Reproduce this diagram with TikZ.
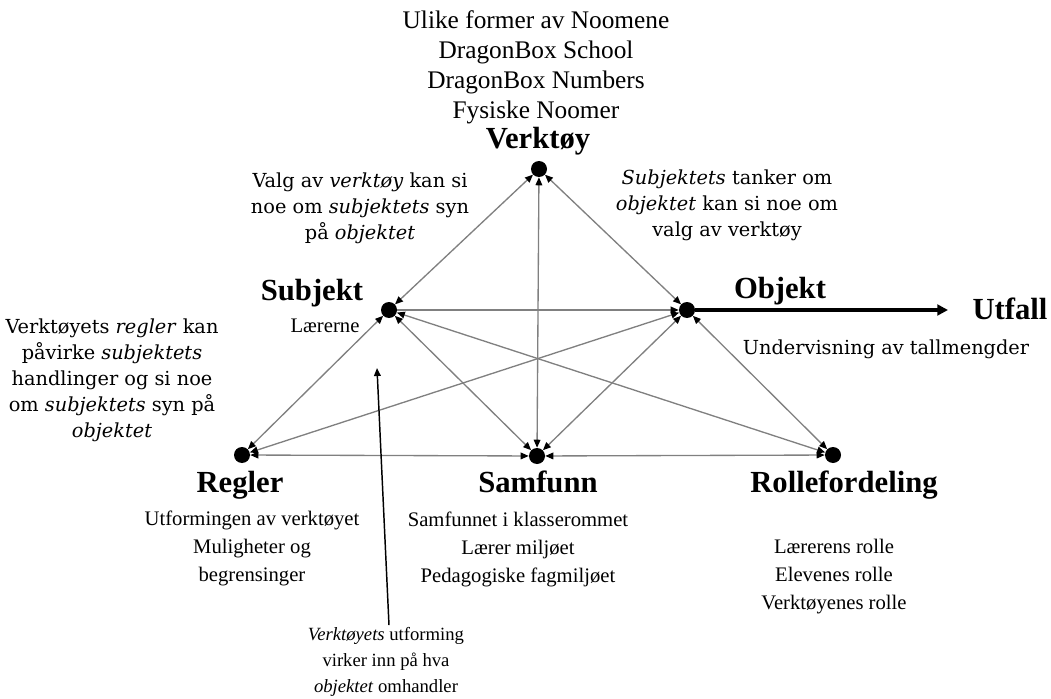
\documentclass[tikz,border=0pt]{standalone}
\usepackage{fontspec}
\setmainfont{Liberation Serif}
\newfontfamily\notefont{DejaVu Serif}
\usetikzlibrary{arrows.meta}

\begin{document}
\begin{tikzpicture}[x=0.75pt,y=-0.75pt,
  dot/.style={circle,fill=black,inner sep=0pt,minimum size=12pt},
  link/.style={draw=black!50,line width=1pt,{Triangle[length=6pt,width=5pt,color=black]}-{Triangle[length=6pt,width=5pt,color=black]}},
  onelink/.style={draw=black!50,line width=1pt,-{Triangle[length=6pt,width=5pt,color=black]}},
  outarrow/.style={draw=black,line width=2.8pt,-{Triangle[length=8pt,width=8pt]}},
  pointer/.style={draw=black,line width=1.1pt,-{Triangle[length=6pt,width=5pt]}},
  head/.style={font=\bfseries\fontsize{23}{27}\selectfont,inner sep=0pt,anchor=base},
  body/.style={font=\fontsize{15.5}{21}\selectfont,align=center,inner sep=0pt},
  toplist/.style={font=\fontsize{19}{22.5}\selectfont,align=center,inner sep=0pt},
  note/.style={font=\notefont\fontsize{14.5}{19.5}\selectfont,align=center,inner sep=0pt},
  lownote/.style={font=\fontsize{14}{19.5}\selectfont,align=center,inner sep=0pt}]

\useasboundingbox (0,0) rectangle (1051,699);

% corners of the activity system
\node[dot] (V) at (539,169) {};
\node[dot] (S) at (389,310) {};
\node[dot] (O) at (687,310) {};
\node[dot] (R) at (242,455) {};
\node[dot] (Sa) at (537,456) {};
\node[dot] (Ro) at (833,455) {};
\coordinate (U) at (948,310);

% relations between the corners
\draw[link] (V) -- (S);
\draw[link] (V) -- (O);
\draw[link] (V) -- (Sa);
\draw[onelink] (S) -- (O);
\draw[link] (S) -- (R);
\draw[link] (S) -- (Sa);
\draw[link] (S) -- (Ro);
\draw[link] (O) -- (R);
\draw[link] (O) -- (Sa);
\draw[link] (O) -- (Ro);
\draw[link] (R) -- (Sa);
\draw[link] (Sa) -- (Ro);
\draw[outarrow] (O) -- (U);

% headings
\node[head] (hV) at (538,148) {Verktøy};
\node[head] (hS) at (312,300) {Subjekt};
\node[head] (hO) at (780,298) {Objekt};
\node[head] (hU) at (1010,319) {Utfall};
\node[head] (hR) at (240,492) {Regler};
\node[head] (hSa) at (538,492) {Samfunn};
\node[head] (hRo) at (844,492) {Rollefordeling};

% contents
\node[toplist] (tV) at (536,67) {Ulike former av Noomene\\DragonBox School\\DragonBox Numbers\\Fysiske Noomer};
\node[body] (tS) at (325,326) {Lærerne};
\node[note] (tO) at (886,349) {Undervisning av tallmengder};
\node[body] (tR) at (252,548) {Utformingen av verktøyet\\Muligheter og\\begrensinger};
\node[body] (tSa) at (518,549) {Samfunnet i klasserommet\\Lærer miljøet\\Pedagogiske fagmiljøet};
\node[body] (tRo) at (834,577) {Lærerens rolle\\Elevenes rolle\\Verktøyenes rolle};

% comments on the relations
\node[note] (nVS) at (360,208) {Valg av \textit{verktøy} kan si\\noe om \textit{subjektets} syn\\på \textit{objektet}};
\node[note] (nVO) at (727,205) {\textit{Subjektets} tanker om\\\textit{objektet} kan si noe om\\valg av verktøy};
\node[note] (nSR) at (112,380) {Verktøyets \textit{regler} kan\\påvirke \textit{subjektets}\\handlinger og si noe\\om \textit{subjektets} syn på\\\textit{objektet}};
\node[lownote] (nRO) at (386,662) {\textit{Verktøyets} utforming\\virker inn på hva\\\textit{objektet} omhandler};
\coordinate (pTop) at (377,368);
\draw[pointer] (nRO.north) ++(3,-2) coordinate (pBot) (pBot) -- (pTop);

\end{tikzpicture}
\end{document}
